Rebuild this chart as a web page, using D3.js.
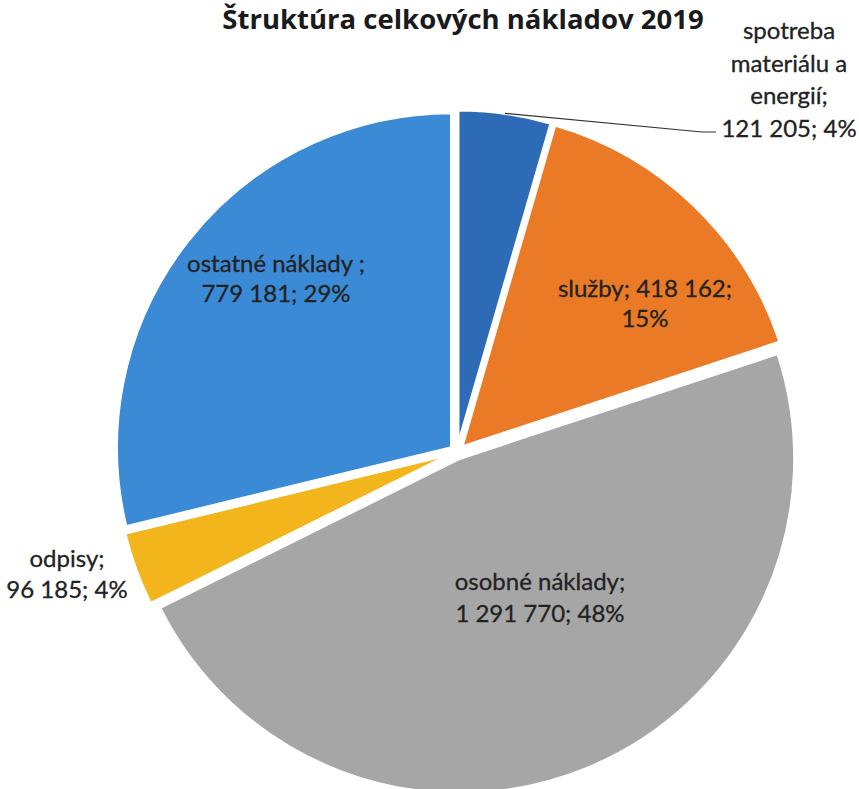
<!DOCTYPE html>
<html>
<head>
<meta charset="utf-8">
<script src="https://cdn.jsdelivr.net/npm/d3@7"></script>
<style>
  body { margin: 0; background: #fff; }
  text { font-family: Lato, "Open Sans", sans-serif; fill: #222; }
</style>
</head>
<body>
<svg id="chart"></svg>
<script>
// data
const categories = ['spotreba materiálu a energií', 'služby', 'osobné náklady', 'odpisy', 'ostatné náklady'];
const values = [121205, 418162, 1291770, 96185, 779181];
const percents = [4, 15, 48, 4, 29];
const colors = ['#2e6bb7', '#ea7a26', '#a6a6a6', '#f2b51b', '#3a8ad6'];
const labelLines = [
  ['spotreba', 'materiálu a', 'energií;', '121 205; 4%'],
  ['služby; 418 162;', '15%'],
  ['osobné náklady;', '1 291 770; 48%'],
  ['odpisy;', '96 185; 4%'],
  ['ostatné náklady ;', '779 181; 29%']
];

const width = 859, height = 789;
const cx = 457, cy = 452, radius = 335, explode = 7;

// label anchors (x centre, first baseline, line step)
const labelPos = [
  { x: 789, y: 39, step: 32.5 },
  { x: 645, y: 297, step: 30 },
  { x: 540, y: 590, step: 32 },
  { x: 67, y: 567, step: 31 },
  { x: 276, y: 272, step: 30 }
];

const svg = d3.select('#chart').attr('width', width).attr('height', height);

svg.append('text')
  .attr('x', 463).attr('y', 29)
  .attr('text-anchor', 'middle')
  .style('font-family', '"Open Sans", Lato, sans-serif')
  .style('font-size', '27.5px').style('font-weight', 'bold').style('fill', '#1a1a1a')
  .text('Štruktúra celkových nákladov 2019');

const pie = d3.pie().sort(null).value(d => d)(values);
const arc = d3.arc().innerRadius(0).outerRadius(radius);

const g = svg.append('g').attr('transform', `translate(${cx},${cy})`);

const offset = d => {
  const a = (d.startAngle + d.endAngle) / 2;
  return [Math.sin(a) * explode, -Math.cos(a) * explode];
};

g.selectAll('path.slice')
  .data(pie)
  .join('path')
  .attr('class', 'slice')
  .attr('d', arc)
  .attr('transform', d => `translate(${offset(d)})`)
  .attr('fill', (d, i) => colors[i])
  .attr('stroke', '#fff')
  .attr('stroke-width', 3)
  .attr('stroke-linejoin', 'round');

// leader line for the small top slice
const first = pie[0];
const midA = (first.startAngle + first.endAngle) / 2;
const [ox, oy] = offset(first);
const sx = cx + ox + Math.sin(midA) * radius;
const sy = cy + oy - Math.cos(midA) * radius;
svg.append('path')
  .attr('d', d3.line()([[sx, sy], [702, 132], [716, 132]]))
  .attr('fill', 'none')
  .attr('stroke', '#333')
  .attr('stroke-width', 1.2);

labelLines.forEach((lines, i) => {
  const p = labelPos[i];
  const t = svg.append('text')
    .attr('text-anchor', 'middle')
    .style('font-size', '24px')
    .style('stroke', '#222').style('stroke-width', 0.3);
  lines.forEach((s, j) => {
    t.append('tspan').attr('x', p.x).attr('y', p.y + j * p.step).text(s);
  });
});
</script>
</body>
</html>
